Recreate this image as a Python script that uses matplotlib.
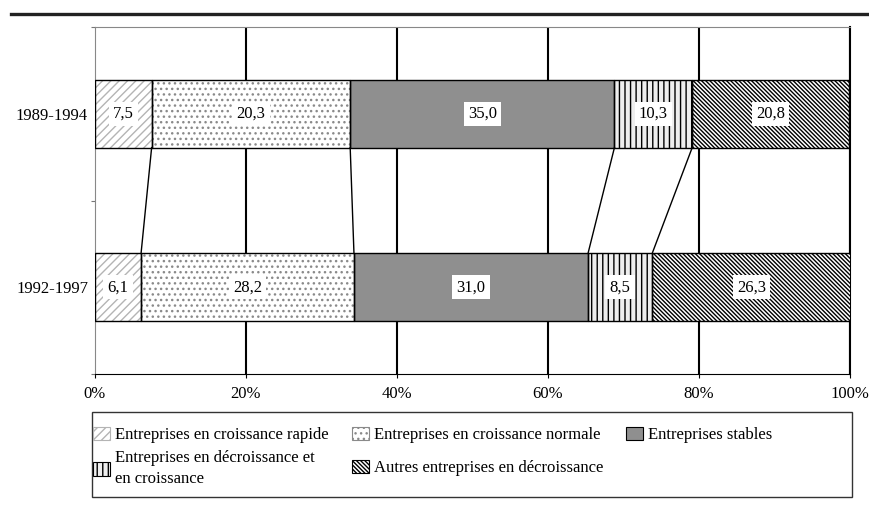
import matplotlib
matplotlib.use("Agg")
import matplotlib.pyplot as plt
import matplotlib.patches as mpatches
from matplotlib.lines import Line2D
import numpy as np

periods = ["1989-1994", "1992-1997"]
categories = [
    "Entreprises en croissance rapide",
    "Entreprises en croissance normale",
    "Entreprises stables",
    "Entreprises en décroissance et\nen croissance",
    "Autres entreprises en décroissance",
]
# segment widths as drawn (percent)
widths = [
    [7.5, 26.3, 35.0, 10.3, 20.8],
    [6.1, 28.2, 31.0, 8.5, 26.3],
]
# labels as printed in the bars
bar_labels = [
    ["7,5", "20,3", "35,0", "10,3", "20,8"],
    ["6,1", "28,2", "31,0", "8,5", "26,3"],
]
xticks = [0, 20, 40, 60, 80, 100]
xtick_labels = ["0%", "20%", "40%", "60%", "80%", "100%"]

plt.rcParams['font.family'] = ['Liberation Serif', 'DejaVu Serif']
plt.rcParams['font.size'] = 12
plt.rcParams['hatch.linewidth'] = 1.0

# (facecolor, hatch, hatch colour)
styles = [
    ("white", "////", "#b4b4b4"),
    ("white", "...", "#8a8a8a"),
    ("#8f8f8f", None, "#8f8f8f"),
    ("#eeeeee", "|||", "black"),
    ("white", "\\" * 8, "black"),
]

fig = plt.figure(figsize=(8.7, 5.08), dpi=100)
ax = fig.add_axes([95 / 870, 1 - 374 / 508, 755 / 870, 347 / 508])

bar_h = 0.39
for i, row in enumerate(widths):
    left = 0
    for j, w in enumerate(row):
        fc, hatch, hc = styles[j]
        ax.barh(i, w, left=left, height=bar_h, color=fc, hatch=hatch,
                edgecolor=hc, linewidth=0, zorder=3)
        ax.barh(i, w, left=left, height=bar_h, fill=False,
                edgecolor="black", linewidth=1.0, zorder=4)
        ax.text(left + w / 2, i, bar_labels[i][j], ha="center", va="center",
                zorder=5, bbox=dict(facecolor="white", edgecolor="none", pad=3))
        left += w

# connecting lines between the two bars
cum_a = np.cumsum(widths[0])[:-1]
cum_b = np.cumsum(widths[1])[:-1]
for a, b in zip(cum_a, cum_b):
    ax.plot([a, b], [0 + bar_h / 2, 1 - bar_h / 2], color="black", lw=1.0, zorder=4)

for x in xticks[1:]:
    ax.axvline(x, color="black", lw=1.5, zorder=1)

ax.set_xlim(0, 100)
ax.set_ylim(1.5, -0.5)
ax.set_xticks(xticks)
ax.set_xticklabels(xtick_labels)
ax.set_yticks([-0.5, 0.5, 1.5])
ax.set_yticklabels([])
ax.set_yticks([0, 1], minor=True)
ax.set_yticklabels(periods, minor=True)
ax.tick_params(axis="y", which="major", length=3, color="#777777")
ax.tick_params(axis="y", which="minor", length=0, pad=5)
ax.tick_params(axis="x", length=3, pad=6)
ax.spines["top"].set_color("#888888")
ax.spines["left"].set_color("#888888")
ax.spines["right"].set_color("black")
ax.spines["right"].set_linewidth(1.5)

handles = []
for fc, hatch, hc in styles:
    ec = hc if hatch else "black"
    handles.append(mpatches.Patch(facecolor=fc, hatch=hatch, edgecolor=ec, linewidth=0.8))

# one legend per column, as in the original layout
columns = [([0, 3], 93, 0.4), ([1, 4], 352, 1.0), ([2], 626, 0.4)]
for idx, xpix, spacing in columns:
    leg = fig.legend([handles[k] for k in idx], [categories[k] for k in idx],
                     loc="upper left", bbox_to_anchor=(xpix / 870, 1 - 427 / 508),
                     ncol=1, frameon=False, handlelength=1.0, handleheight=0.85,
                     handletextpad=0.35, borderpad=0, borderaxespad=0,
                     labelspacing=spacing, fontsize=12)
    for t in leg.get_texts():
        t.set_linespacing(1.45)

fig.add_artist(mpatches.Rectangle((92 / 870, 1 - 497 / 508), 760 / 870, 85 / 508,
                                  transform=fig.transFigure, fill=False,
                                  edgecolor="#333333", linewidth=1.0))

fig.add_artist(Line2D([11 / 870, 1], [1 - 14 / 508] * 2, lw=2.4, color="#222222"))

fig.savefig("out.png", dpi=100)
